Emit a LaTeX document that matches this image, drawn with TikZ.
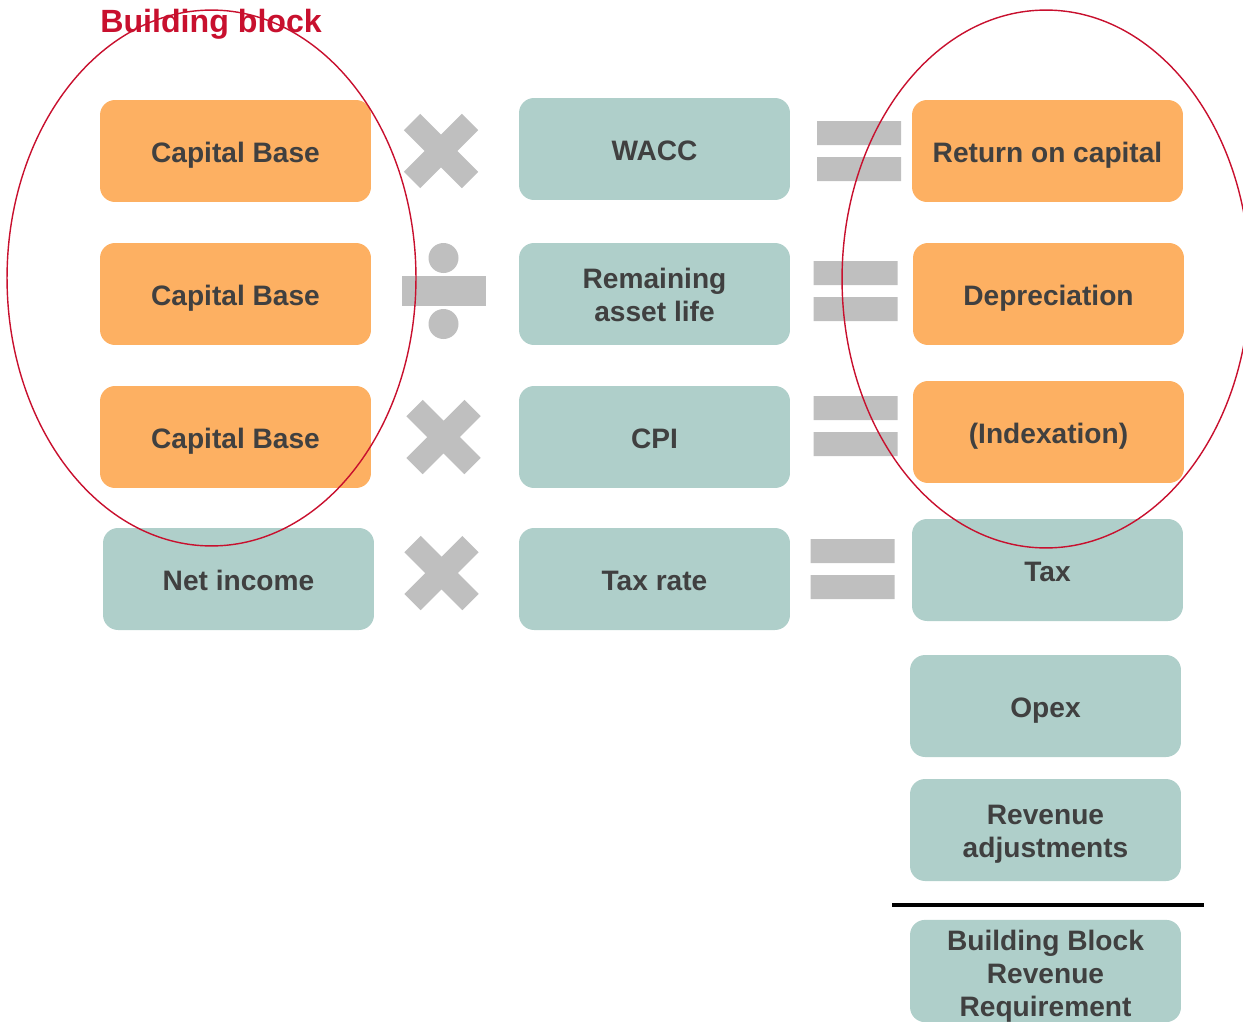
\documentclass[tikz,border=0pt]{standalone}
\usepackage{fontspec}
\setmainfont{Liberation Sans}
\definecolor{blockorange}{HTML}{FDB062}
\definecolor{blockteal}{HTML}{AFCFCA}
\definecolor{symgray}{HTML}{BFBFBF}
\definecolor{txtgray}{HTML}{404040}
\definecolor{ringred}{HTML}{C8102E}
\newcommand{\mulsign}[1]{\draw[symgray, line width=0.46cm] (#1) +(-29,-29) -- +(29,29) (#1) +(-29,29) -- +(29,-29);}
\newcommand{\eqsign}[1]{\fill[symgray] (#1) +(-42,-30) rectangle +(42,-6) (#1) +(-42,6) rectangle +(42,30);}
\newcommand{\botstrut}{\rule[-3.4pt]{0pt}{0pt}}

\begin{document}
\begin{tikzpicture}[x=0.02cm, y=-0.02cm,
    blk/.style={rounded corners=0.3cm, minimum width=5.42cm, minimum height=2.04cm, inner sep=0pt,
        align=center, text=txtgray, font=\fontsize{16}{18.8}\selectfont\bfseries,
        execute at begin node=\rule{0pt}{16.3pt}, execute at end node=\botstrut},
    twolines/.style={execute at begin node=\rule{0pt}{35.1pt}},
    threelines/.style={execute at begin node=\rule{0pt}{54.8pt}},
    orangeblk/.style={blk, fill=blockorange},
    tealblk/.style={blk, fill=blockteal},
    ring/.style={draw=ringred, line width=0.8pt}]
    \useasboundingbox (0,0) rectangle (1243,1021);

    \node[text=ringred, font=\fontsize{18.3}{21}\selectfont\bfseries, anchor=base west, inner sep=0pt] (title) at (100,32.5) {Building block};

    \node[orangeblk] (cb1) at (235.5,151) {Capital Base};
    \node[orangeblk] (cb2) at (235.5,294) {Capital Base};
    \node[orangeblk] (cb3) at (235.5,437) {Capital Base};
    \node[tealblk] (netinc) at (238.5,579) {Net income};

    \node[tealblk] (wacc) at (654.5,149) {WACC};
    \node[tealblk, twolines] (life) at (654.5,294) {Remaining\\asset life};
    \node[tealblk] (cpi) at (654.5,437) {CPI};
    \node[tealblk] (taxrate) at (654.5,579) {Tax rate};

    \node[orangeblk] (roc) at (1047.5,151) {Return on capital};
    \node[orangeblk] (dep) at (1048.5,294) {Depreciation};
    \node[orangeblk] (idx) at (1048.5,432) {(Indexation)};
    \node[tealblk] (tax) at (1047.5,570) {Tax};
    \node[tealblk] (opex) at (1045.5,706) {Opex};
    \node[tealblk, twolines] (revadj) at (1045.5,830) {Revenue\\adjustments};
    \node[tealblk, threelines] (bbrr) at (1045.5,971) {Building Block\\Revenue\\Requirement};

    \coordinate (m1) at (441,151);
    \coordinate (m2) at (443.5,437);
    \coordinate (m3) at (441.5,573);
    \mulsign{m1}
    \mulsign{m2}
    \mulsign{m3}

    \coordinate (d1) at (443.5,291);
    \fill[symgray] (d1) +(-42,-15) rectangle +(42,15);
    \fill[symgray] (d1) +(0,-33) circle [radius=0.3cm] +(0,33) circle [radius=0.3cm];

    \coordinate (e1) at (859,151);
    \coordinate (e2) at (855.5,291);
    \coordinate (e3) at (855.5,426);
    \coordinate (e4) at (852.5,569);
    \eqsign{e1}
    \eqsign{e2}
    \eqsign{e3}
    \eqsign{e4}

    \coordinate (sumL) at (892,904.5);
    \coordinate (sumR) at (1204,904.5);
    \draw[line width=0.08cm] (sumL) -- (sumR);

    \draw[ring] (211.5,278) ellipse [x radius=4.09cm, y radius=5.36cm];
    \draw[ring] (1046,279) ellipse [x radius=4.08cm, y radius=5.38cm];
\end{tikzpicture}
\end{document}
